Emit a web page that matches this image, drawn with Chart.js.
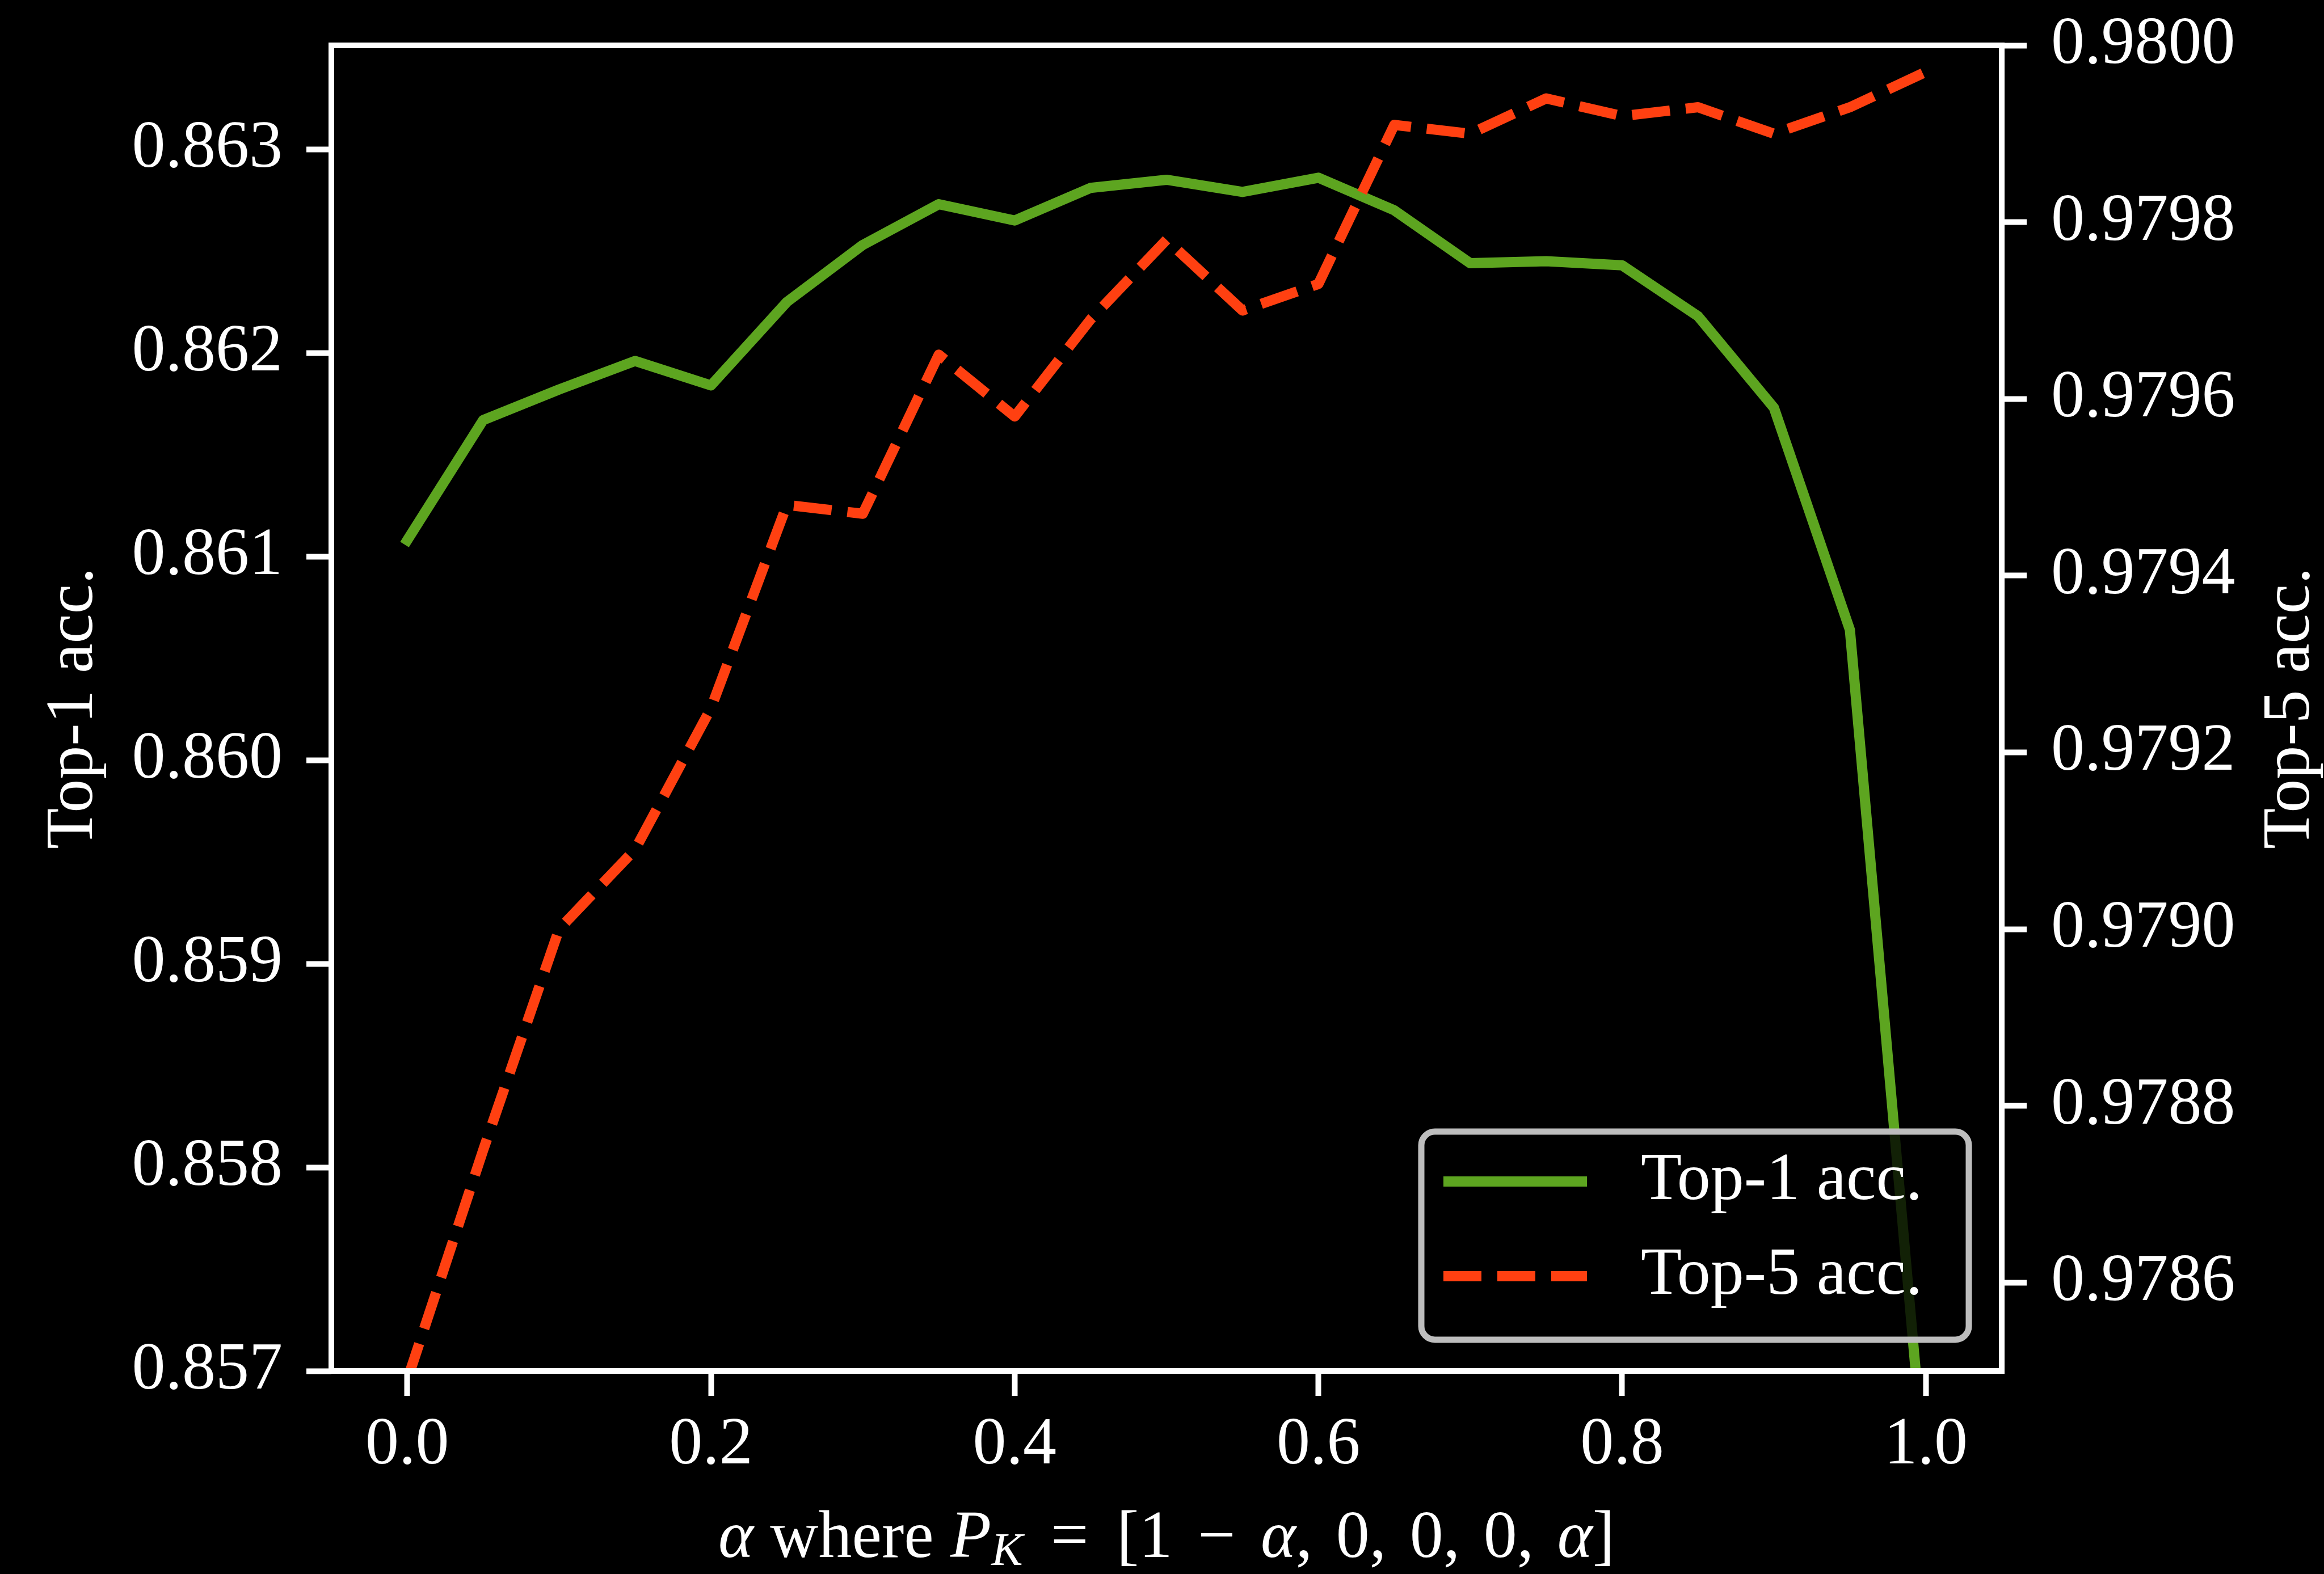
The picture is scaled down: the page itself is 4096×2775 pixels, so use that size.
<!DOCTYPE html>
<html>
<head>
<meta charset="utf-8">
<script src="https://cdn.jsdelivr.net/npm/chart.js@4.4.1/dist/chart.umd.min.js"></script>
<style>
  html, body { margin: 0; padding: 0; background: #000; overflow: hidden; }
  canvas { display: block; }
</style>
</head>
<body>
<canvas id="chart" width="4096" height="2775"></canvas>
<script>
// alpha values along the x axis
const alphas = [0.0, 0.05, 0.1, 0.15, 0.2, 0.25, 0.3, 0.35, 0.4, 0.45, 0.5,
                0.55, 0.6, 0.65, 0.7, 0.75, 0.8, 0.85, 0.9, 0.95, 1.0];
// left axis
const top1Acc = [0.86108, 0.86167, 0.86182, 0.86196, 0.86184, 0.86225, 0.86253,
                 0.86273, 0.86265, 0.86281, 0.86285, 0.86279, 0.86286, 0.86270,
                 0.86244, 0.86245, 0.86243, 0.86218, 0.86173, 0.86064, 0.85644];
// right axis
const top5Acc = [0.97849, 0.97875, 0.97900, 0.97909, 0.97925, 0.97948, 0.97947,
                 0.97965, 0.97958, 0.97969, 0.97978, 0.97970, 0.97973, 0.97991,
                 0.97990, 0.97994, 0.97992, 0.97993, 0.97990, 0.97993, 0.97997];

const alphaTicks = [0.0, 0.2, 0.4, 0.6, 0.8, 1.0];
const top1Ticks = [0.857, 0.858, 0.859, 0.860, 0.861, 0.862, 0.863];
const top5Ticks = [0.9786, 0.9788, 0.9790, 0.9792, 0.9794, 0.9796, 0.9798, 0.9800];

const FONT = '"Liberation Serif", "DejaVu Serif", serif';
const FS = 118;
const LW = 10;      // spine / tick width
const TICK = 44;
const WHITE = '#ffffff';

function fixedTicks(list) {
  return scale => { scale.ticks = list.map(v => ({ value: v })); };
}

// force the axis box size and drop the label overhang padding
function fitTo(w, h) {
  return scale => {
    if (w != null) scale.width = w;
    if (h != null) scale.height = h;
    scale.paddingTop = scale.paddingBottom = 0;
    scale.paddingLeft = scale.paddingRight = 0;
  };
}

function axisOpts(extra) {
  return Object.assign({
    grid: { drawOnChartArea: false, drawTicks: true, tickLength: TICK, tickWidth: LW, tickColor: WHITE },
    border: { display: false },
  }, extra);
}

// background, frame, axis titles, legend
const decor = {
  id: 'decor',
  beforeDraw(chart) {
    const ctx = chart.ctx;
    ctx.save();
    ctx.fillStyle = '#000';
    ctx.fillRect(0, 0, chart.width, chart.height);
    ctx.restore();
  },
  afterDatasetsDraw(chart) {
    const { ctx, chartArea: a } = chart;
    ctx.save();
    ctx.strokeStyle = WHITE;
    ctx.lineWidth = LW;
    ctx.strokeRect(a.left, a.top, a.right - a.left, a.bottom - a.top);
    ctx.restore();
  },
  afterDraw(chart) {
    const { ctx, chartArea: a } = chart;
    const midY = (a.top + a.bottom) / 2;
    ctx.save();
    ctx.fillStyle = WHITE;
    ctx.font = FS + 'px ' + FONT;
    ctx.textAlign = 'center';
    ctx.textBaseline = 'alphabetic';

    // y titles, both reading bottom to top
    [['Top-1 acc.', 162], ['Top-5 acc.', 4069]].forEach(([txt, x]) => {
      ctx.save();
      ctx.translate(x, midY);
      ctx.rotate(-Math.PI / 2);
      ctx.fillText(txt, 0, 0);
      ctx.restore();
    });

    // x title with italic math and subscript; gap = extra px after the piece
    const parts = [
      { t: '\u03b1', it: true },
      { t: ' where ', it: false },
      { t: 'P', it: true },
      { t: 'K', it: true, sub: true, gap: 20 },
      { t: ' = ', it: false, gap: 20 },
      { t: '[1', it: false, gap: 15 },
      { t: ' \u2212 ', it: false, gap: 15 },
      { t: '\u03b1', it: true },
      { t: ', ', it: false, gap: 12 },
      { t: '0, ', it: false, gap: 12 },
      { t: '0, ', it: false, gap: 12 },
      { t: '0, ', it: false, gap: 12 },
      { t: '\u03b1', it: true },
      { t: ']', it: false },
    ];
    const fontFor = p => (p.it ? 'italic ' : '') + Math.round(p.sub ? FS * 0.7 : FS) + 'px ' + FONT;
    let total = 0;
    parts.forEach(p => {
      ctx.font = fontFor(p);
      p.w = ctx.measureText(p.t).width + (p.gap || 0);
      total += p.w;
    });
    let x = (a.left + a.right) / 2 - total / 2;
    const baseY = 2745;
    ctx.textAlign = 'left';
    parts.forEach(p => {
      ctx.font = fontFor(p);
      ctx.fillText(p.t, x, baseY + (p.sub ? 14 : 0));
      x += p.w;
    });

    // legend
    const L = { x: 2505, y: 1995, w: 965, h: 367 };
    ctx.beginPath();
    ctx.roundRect(L.x, L.y, L.w, L.h, 24);
    ctx.fillStyle = 'rgba(0,0,0,0.8)';
    ctx.fill();
    ctx.lineWidth = 11;
    ctx.strokeStyle = '#bdbdbd';
    ctx.stroke();

    const rows = [2083, 2250];
    chart.data.datasets
      .slice()
      .sort((p, q) => q.order - p.order)
      .forEach((ds, i) => {
        const y = rows[i];
        ctx.save();
        ctx.strokeStyle = ds.borderColor;
        ctx.lineWidth = ds.borderWidth;
        ctx.setLineDash(ds.borderDash || []);
        ctx.lineCap = 'butt';
        ctx.beginPath();
        ctx.moveTo(2544, y);
        ctx.lineTo(2797, y);
        ctx.stroke();
        ctx.restore();
        ctx.fillStyle = WHITE;
        ctx.font = FS + 'px ' + FONT;
        ctx.textAlign = 'left';
        ctx.textBaseline = 'middle';
        ctx.fillText(ds.label, 2892, y);
      });
    ctx.restore();
  }
};

const tickFont = { family: FONT, size: FS };

new Chart(document.getElementById('chart'), {
  type: 'line',
  data: {
    datasets: [
      {
        label: 'Top-1 acc.',
        data: alphas.map((a, i) => ({ x: a, y: top1Acc[i] })),
        yAxisID: 'y',
        borderColor: '#5da520',
        borderWidth: 18,
        borderCapStyle: 'square',
        borderJoinStyle: 'round',
        pointRadius: 0,
        tension: 0,
        fill: false,
        clip: 0,
        order: 1
      },
      {
        label: 'Top-5 acc.',
        data: alphas.map((a, i) => ({ x: a, y: top5Acc[i] })),
        yAxisID: 'y1',
        borderColor: '#ff4011',
        borderWidth: 18,
        borderDash: [67, 28],
        borderCapStyle: 'butt',
        borderJoinStyle: 'round',
        pointRadius: 0,
        tension: 0,
        fill: false,
        clip: 0,
        order: 0
      }
    ]
  },
  options: {
    responsive: false,
    devicePixelRatio: 1,
    animation: false,
    events: [],
    layout: { padding: { top: 80, left: 0, right: 0, bottom: 0 } },
    plugins: {
      legend: { display: false },
      tooltip: { enabled: false },
      title: { display: false }
    },
    scales: {
      x: axisOpts({
        type: 'linear',
        position: 'bottom',
        min: -0.05,
        max: 1.05,
        afterBuildTicks: fixedTicks(alphaTicks),
        afterFit: fitTo(null, 358),
        ticks: {
          color: WHITE, font: tickFont, padding: 17, maxRotation: 0, autoSkip: false,
          callback: v => Number(v).toFixed(1)
        }
      }),
      y: axisOpts({
        type: 'linear',
        position: 'left',
        min: 0.857,
        max: 0.86351,
        afterBuildTicks: fixedTicks(top1Ticks),
        afterFit: fitTo(584, null),
        ticks: {
          color: WHITE, font: tickFont, padding: 42, autoSkip: false,
          callback: v => Number(v).toFixed(3)
        }
      }),
      y1: axisOpts({
        type: 'linear',
        position: 'right',
        min: 0.9785,
        max: 0.9800,
        afterBuildTicks: fixedTicks(top5Ticks),
        afterFit: fitTo(568, null),
        ticks: {
          color: WHITE, font: tickFont, padding: 43, autoSkip: false,
          callback: v => Number(v).toFixed(4)
        }
      })
    }
  },
  plugins: [decor]
});
</script>
</body>
</html>
